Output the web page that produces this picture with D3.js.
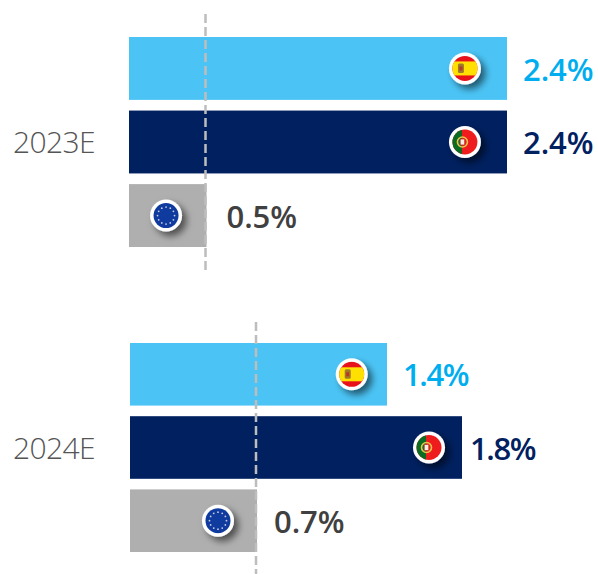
<!DOCTYPE html>
<html><head><meta charset="utf-8">
<script src="https://cdnjs.cloudflare.com/ajax/libs/d3/7.8.5/d3.min.js"></script>
<style>html,body{margin:0;padding:0;background:#fff}svg{display:block}</style>
</head><body><svg id="c" width="598" height="574"></svg>
<script>
const years = ["2023E","2024E"];
const regions = ["Spain","Portugal","Euro area"];
const values2023 = [2.4,2.4,0.5];
const values2024 = [1.4,1.8,0.7];
const flagAt2023 = [2.134,2.134,0.239];
const flagAt2024 = [1.21,1.624,0.485];
const barColors = ["#4BC4F5","#00205F","#AFAFAF"];
const labelColors = ["#00AEEF","#00205F","#404040"];
const svg = d3.select("#c");
const defs = svg.append("defs");
const sh = defs.append("filter").attr("id","sh").attr("x","-60%").attr("y","-60%").attr("width","240%").attr("height","240%");
sh.append("feDropShadow").attr("dx",4.5).attr("dy",4.5).attr("stdDeviation",3.5).attr("flood-color","#000").attr("flood-opacity",.55);
defs.append("clipPath").attr("id","fc").append("circle").attr("r",12.5);

const groups = [
 {year:years[0],values:values2023,flags:flagAt2023,
  x:d3.scaleLinear().domain([0,0.5,2.4]).range([129,206.5,507]),
  y:d3.scaleBand().domain(regions).range([37,247]).paddingInner(.145),ref:[14,271],refX:205.5,labelY:142,pad:[17,17,21],labelDy:[1,1,1]},
 {year:years[1],values:values2024,flags:flagAt2024,
  x:d3.scaleLinear().domain([0,0.7,1.4,1.8]).range([130,257,387,462]),
  y:d3.scaleBand().domain(regions).range([343,552]).paddingInner(.145),ref:[322,574],refX:256,labelY:448,pad:[17,9,18],labelDy:[1,1,1]}
];

function flag(g,name){
 const c=g.append("g").attr("clip-path","url(#fc)");
 if(name==="Spain"){
  c.append("rect").attr("x",-13).attr("y",-13).attr("width",26).attr("height",26).attr("fill","#E8121B");
  c.append("rect").attr("x",-13).attr("y",-7).attr("width",26).attr("height",14).attr("fill","#FFE000");
  c.append("rect").attr("x",-7).attr("y",-5).attr("width",6).attr("height",9.5).attr("rx",1.5).attr("fill","#A07A2A");
  c.append("rect").attr("x",-5.5).attr("y",-2).attr("width",3).attr("height",4).attr("fill","#B5382A");
 } else if(name==="Portugal"){
  c.append("rect").attr("x",-13).attr("y",-13).attr("width",26).attr("height",26).attr("fill","#EE1C1C");
  c.append("rect").attr("x",-13).attr("y",-13).attr("width",10).attr("height",26).attr("fill","#0A6B22");
  c.append("circle").attr("cx",-2.5).attr("r",5).attr("fill","none").attr("stroke","#E6C64A").attr("stroke-width",1.6);
  c.append("rect").attr("x",-4.8).attr("y",-3).attr("width",4.6).attr("height",6).attr("rx",1).attr("fill","#F4F0E6").attr("stroke","#C8322A").attr("stroke-width",.9);
 } else {
  c.append("rect").attr("x",-13).attr("y",-13).attr("width",26).attr("height",26).attr("fill","#0F3A9E");
  d3.range(12).forEach(i=>{
   const a=i/12*2*Math.PI;
   c.append("circle").attr("cx",8.5*Math.cos(a)).attr("cy",8.5*Math.sin(a)).attr("r",.9).attr("fill","#C8CCE4");
  });
 }
}

groups.forEach(G=>{
 const g=svg.append("g");
 g.append("text").attr("x",13).attr("y",G.labelY).attr("dy","0.36em")
  .attr("font-family","'Open Sans'").attr("font-weight",300).attr("font-size",30).attr("letter-spacing",-.6).attr("fill","#555").text(G.year);
 g.selectAll("rect.bar").data(regions).join("rect").attr("class","bar")
  .attr("x",G.x(0)).attr("y",d=>G.y(d)).attr("height",G.y.bandwidth())
  .attr("width",(d,i)=>G.x(G.values[i])-G.x(0)).attr("fill",(d,i)=>barColors[i]);
 g.append("line").attr("x1",G.refX).attr("x2",G.refX).attr("y1",G.ref[0]).attr("y2",G.ref[1])
  .attr("stroke","#BDBDBD").attr("stroke-width",2.5).attr("stroke-dasharray","9 4");
 regions.forEach((r,i)=>{
  const m=g.append("g").attr("transform",`translate(${G.x(G.flags[i])},${G.y(r)+G.y.bandwidth()/2})`);
  m.append("circle").attr("r",16).attr("fill","#fff").attr("filter","url(#sh)");
  flag(m,r);
  const txt=d3.format(".1f")(G.values[i])+"%";
  g.append("text").attr("x",G.x(G.values[i])+G.pad[i]-1).attr("y",G.y(r)+G.y.bandwidth()/2+G.labelDy[i]).attr("dy","0.36em")
   .attr("font-family","'Open Sans'").attr("font-weight",600).attr("font-size",31).attr("letter-spacing",txt[0]==="1"?-1.4:-.1)
   .attr("fill",labelColors[i]).text(txt);
 });
});
</script></body></html>
